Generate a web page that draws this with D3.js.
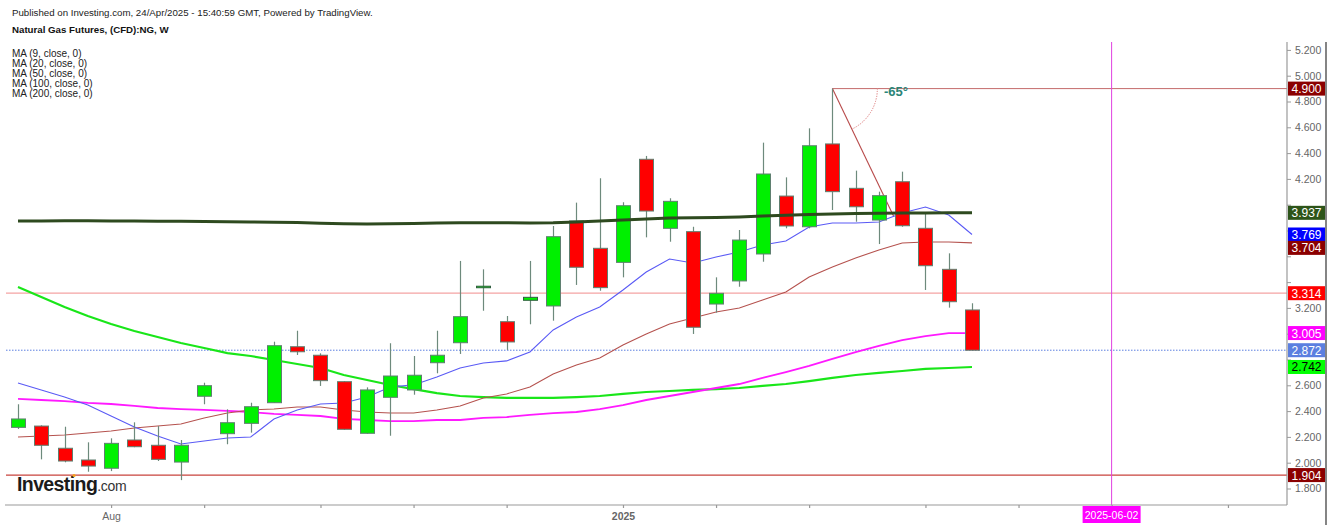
<!DOCTYPE html>
<html><head><meta charset="utf-8">
<script src="https://cdn.jsdelivr.net/npm/d3@7/dist/d3.min.js"></script>
<style>body{margin:0;background:#fff}svg{display:block;font-family:"Liberation Sans",Arial,sans-serif}</style>
</head><body><svg id="c" width="1332" height="525"></svg>
<script>
const dates = ["2024-07-08","2024-07-15","2024-07-22","2024-07-29","2024-08-05","2024-08-12","2024-08-19","2024-08-26","2024-09-02","2024-09-09","2024-09-16","2024-09-23","2024-09-30","2024-10-07","2024-10-14","2024-10-21","2024-10-28","2024-11-04","2024-11-11","2024-11-18","2024-11-25","2024-12-02","2024-12-09","2024-12-16","2024-12-23","2024-12-30","2025-01-06","2025-01-13","2025-01-20","2025-01-27","2025-02-03","2025-02-10","2025-02-17","2025-02-24","2025-03-03","2025-03-10","2025-03-17","2025-03-24","2025-03-31","2025-04-07","2025-04-14","2025-04-21"];
const opens  = [2.274,2.284,2.112,2.021,1.957,2.176,2.135,2.005,2.515,2.225,2.305,2.465,2.899,2.833,2.628,2.228,2.507,2.564,2.775,2.930,3.360,3.093,3.259,3.215,3.874,3.662,3.553,4.352,3.817,3.791,3.230,3.409,3.618,4.067,3.829,4.471,4.127,3.881,4.178,3.817,3.499,3.184];
const highs  = [2.453,2.290,2.279,2.158,2.189,2.313,2.284,2.176,2.620,2.414,2.465,2.938,3.023,2.848,2.632,2.584,2.926,2.827,3.023,3.564,3.499,3.137,3.564,3.835,4.016,4.205,4.019,4.378,4.050,3.829,3.437,3.804,4.481,4.212,4.592,4.900,4.264,4.101,4.256,3.938,3.623,3.236];
const lows   = [2.261,2.026,2.003,1.930,1.935,2.120,2.013,1.865,2.453,2.143,2.233,2.465,2.835,2.595,2.255,2.225,2.209,2.527,2.693,2.843,3.178,2.874,3.073,3.101,3.378,3.333,3.437,3.747,3.713,2.998,3.163,3.364,3.558,3.817,3.817,3.959,3.868,3.695,3.829,3.339,3.202,2.872];
const closes = [2.339,2.135,2.013,1.974,2.150,2.124,2.026,2.135,2.597,2.310,2.434,2.907,2.860,2.636,2.259,2.564,2.672,2.678,2.833,3.132,3.368,2.936,3.282,3.752,3.515,3.357,3.992,3.951,4.026,3.050,3.313,3.726,4.238,3.835,4.457,4.101,3.984,4.070,3.837,3.527,3.248,2.872];
const ma9   = [2.618,2.564,2.510,2.447,2.362,2.277,2.207,2.145,2.168,2.192,2.199,2.339,2.409,2.455,2.463,2.510,2.587,2.603,2.664,2.734,2.773,2.789,2.858,3.029,3.129,3.207,3.339,3.478,3.579,3.548,3.595,3.633,3.688,3.719,3.827,3.858,3.858,3.866,3.936,3.982,3.920,3.769];
const ma20  = [2.199,2.207,2.215,2.230,2.246,2.269,2.284,2.300,2.346,2.385,2.409,2.416,2.432,2.432,2.409,2.393,2.385,2.385,2.409,2.440,2.502,2.533,2.587,2.688,2.757,2.812,2.912,2.998,3.075,3.122,3.168,3.199,3.261,3.323,3.439,3.517,3.587,3.649,3.703,3.711,3.711,3.704];
const ma50  = [2.494,2.486,2.478,2.463,2.455,2.440,2.424,2.416,2.409,2.401,2.393,2.378,2.370,2.362,2.339,2.331,2.323,2.323,2.331,2.331,2.347,2.354,2.370,2.385,2.393,2.416,2.447,2.486,2.517,2.548,2.579,2.610,2.657,2.703,2.750,2.804,2.858,2.905,2.951,2.982,3.005,3.005];
const ma100 = [3.362,3.284,3.207,3.137,3.075,3.021,2.974,2.928,2.889,2.850,2.827,2.796,2.765,2.734,2.680,2.641,2.602,2.571,2.540,2.517,2.509,2.502,2.502,2.502,2.509,2.517,2.533,2.548,2.556,2.564,2.571,2.579,2.595,2.610,2.633,2.657,2.680,2.696,2.711,2.727,2.734,2.742];
const ma200 = [3.874,3.874,3.876,3.876,3.874,3.874,3.872,3.872,3.870,3.868,3.866,3.864,3.862,3.856,3.852,3.850,3.852,3.855,3.858,3.860,3.860,3.860,3.858,3.860,3.866,3.874,3.882,3.890,3.896,3.898,3.901,3.905,3.912,3.918,3.924,3.928,3.931,3.933,3.935,3.936,3.937,3.937];
const yTicks = [1.8,2.0,2.2,2.4,2.6,2.8,3.0,3.2,3.4,3.6,3.8,4.0,4.2,4.4,4.6,4.8,5.0,5.2];
const monthTicks = ["2024-08-05","2024-09-02","2024-10-07","2024-11-04","2024-12-02","2025-01-06","2025-02-03","2025-03-03","2025-04-07","2025-05-05","2025-06-02","2025-07-07"];
const monthLabels = ["Aug","","","","","2025","","","","","",""];
const legend = ["MA (9, close, 0)","MA (20, close, 0)","MA (50, close, 0)","MA (100, close, 0)","MA (200, close, 0)"];
const hLines = [{v:3.314,color:"#f4a3a3",box:"#ff0000"},{v:1.904,color:"#c8433c",box:"#8b0000"}];
const lastPrice = 2.872;
const peak = {date:"2025-03-10", v:4.900};
const trendEnd = {date:"2025-03-28T12:00", v:3.907};
const angleText = "-65°";
const markerDate = "2025-06-02";

const P = d3.timeParse("%Y-%m-%d");
const parseAny = s => s.length>10 ? d3.timeParse("%Y-%m-%dT%H:%M")(s) : P(s);
const D = dates.map(P);
const svg = d3.select("#c");
const AX = 1287, BY = 505, TOP = 42, LEFT = 5;
const x = d3.scaleTime().domain([D[0], D[D.length-1]]).range([18, 972]);
const y = d3.scaleLinear().domain([1.8, 5.2]).range([488.5, 49.9]);

svg.append("rect").attr("width",1332).attr("height",525).attr("fill","#fff");

// header
svg.append("text").attr("x",12).attr("y",16).attr("font-size",9.7).attr("fill","#222").text("Published on Investing.com, 24/Apr/2025 - 15:40:59 GMT, Powered by TradingView.");
svg.append("text").attr("x",12).attr("y",33).attr("font-size",9.7).attr("font-weight","bold").attr("fill","#111").text("Natural Gas Futures, (CFD):NG, W");
legend.forEach((t,i)=>svg.append("text").attr("x",12).attr("y",57+i*10).attr("font-size",10).attr("fill","#222").text(t));

// horizontal lines
hLines.forEach(h=>svg.append("line").attr("x1",6).attr("x2",AX).attr("y1",y(h.v)).attr("y2",y(h.v)).attr("stroke",h.color).attr("stroke-width",1.3));
svg.append("line").attr("x1",6).attr("x2",AX).attr("y1",y(lastPrice)).attr("y2",y(lastPrice)).attr("stroke","#5b7fe0").attr("stroke-dasharray","1.5,1.5");

// peak line and angle
const px = x(P(peak.date)), py = y(peak.v);
svg.append("line").attr("x1",px).attr("x2",AX).attr("y1",py).attr("y2",py).attr("stroke","#c46a6a").attr("stroke-width",1);
const tx = x(parseAny(trendEnd.date)), ty = y(trendEnd.v);
svg.append("line").attr("x1",px).attr("y1",py).attr("x2",tx).attr("y2",ty).attr("stroke","#b84a4a").attr("stroke-width",1.1);
const ang = Math.atan2(ty-py, tx-px);
const arc = d3.arc().innerRadius(45).outerRadius(45).startAngle(Math.PI/2).endAngle(Math.PI/2+ang);
svg.append("path").attr("d",arc()).attr("transform",`translate(${px},${py})`).attr("fill","none").attr("stroke","#e08a8a").attr("stroke-width",0.8).attr("stroke-dasharray","1,1.5");
svg.append("text").attr("x",884).attr("y",96).attr("font-size",13).attr("font-weight","bold").attr("fill","#2a8577").text(angleText);

// marker vertical line
const mx = x(P(markerDate));
svg.append("line").attr("x1",mx).attr("x2",mx).attr("y1",TOP).attr("y2",BY).attr("stroke","#e040e0").attr("stroke-width",1);

// MA lines
const line = arr => d3.line().x((d,i)=>x(D[i])).y(d=>y(d))(arr);
[[ma100,"#19e619",2.2],[ma50,"#ff1aff",1.8],[ma20,"#b5524e",1.1],[ma9,"#5a5af5",1.1]].forEach(([a,c,w])=>
  svg.append("path").attr("d",line(a)).attr("fill","none").attr("stroke",c).attr("stroke-width",w));

// candles
const bw = 14;
const g = svg.append("g");
D.forEach((d,i)=>{
  const cx = Math.round(x(d))+0.5;
  const up = closes[i] >= opens[i];
  g.append("line").attr("x1",cx).attr("x2",cx).attr("y1",y(highs[i])).attr("y2",y(lows[i])).attr("stroke","#6d8a7c").attr("stroke-width",1.2);
  const top = y(Math.max(opens[i],closes[i])), bot = y(Math.min(opens[i],closes[i]));
  g.append("rect").attr("x",cx-bw/2).attr("y",top).attr("width",bw).attr("height",Math.max(bot-top,1.5))
    .attr("fill", up?"#00f000":"#ff0000").attr("stroke", Math.abs(bot-top)<3?"#2f5d3f":"#5f7f70").attr("stroke-width",1);
});
svg.append("path").attr("d",line(ma200)).attr("fill","none").attr("stroke","#2e4a1f").attr("stroke-width",3);

// axes
svg.append("line").attr("x1",LEFT).attr("x2",AX).attr("y1",BY).attr("y2",BY).attr("stroke","#9a9a9a").attr("stroke-width",1.2);
svg.append("line").attr("x1",AX).attr("x2",AX).attr("y1",TOP).attr("y2",BY).attr("stroke","#9a9a9a").attr("stroke-width",1.2);
svg.append("line").attr("x1",1326).attr("x2",1326).attr("y1",TOP).attr("y2",525).attr("stroke","#333").attr("stroke-width",1.2);

// value labels on the axis
const boxes = [
  {v:4.900,fill:"#8b0000",tc:"#fff"},
  {v:ma200[ma200.length-1],fill:"#2d5419",tc:"#fff"},
  {v:ma9[ma9.length-1],fill:"#0000ff",tc:"#fff"},
  {v:ma20[ma20.length-1],fill:"#8b0000",tc:"#fff",dy:5},
  {v:3.314,fill:"#ff0000",tc:"#fff"},
  {v:ma50[ma50.length-1],fill:"#ff00ff",tc:"#fff"},
  {v:lastPrice,fill:"#5b7fe0",tc:"#fff"},
  {v:ma100[ma100.length-1],fill:"#00ff00",tc:"#000"},
  {v:1.904,fill:"#8b0000",tc:"#fff"}
];
const boxY = boxes.map(b=>y(b.v)+(b.dy||0));

const ya = d3.axisRight(y).tickValues(yTicks).tickSize(4).tickPadding(4).tickFormat(d3.format(".3f"));
const yg = svg.append("g").attr("transform",`translate(${AX},0)`).call(ya);
yg.select(".domain").remove();
yg.selectAll("line").attr("stroke","#999");
yg.selectAll("text").attr("font-size",10.5).attr("fill","#666").attr("font-family","Liberation Sans, Arial")
  .style("display",d=>boxY.some(by=>Math.abs(by-y(d))<12)?"none":null);

const xa = d3.axisBottom(x).tickValues(monthTicks.map(P)).tickSize(3).tickPadding(5).tickFormat((d,i)=>monthLabels[i]);
const xg = svg.append("g").attr("transform",`translate(0,${BY})`).call(xa);
xg.select(".domain").remove();
xg.selectAll("line").attr("stroke","#999").attr("stroke-width",1.2);
xg.selectAll("text").attr("font-size",10.5).attr("fill","#666").attr("font-family","Liberation Sans, Arial")
  .attr("font-weight",(d,i)=>monthLabels[i]==="2025"?"bold":"normal");

boxes.forEach((b,i)=>{
  const cy = boxY[i];
  svg.append("rect").attr("x",AX+1).attr("y",cy-7).attr("width",37).attr("height",14).attr("fill",b.fill);
  svg.append("text").attr("x",AX+19.5).attr("y",cy+4.5).attr("text-anchor","middle").attr("font-size",12).attr("fill",b.tc).text(d3.format(".3f")(b.v));
});
// marker date label
svg.append("rect").attr("x",mx-29).attr("y",BY+1).attr("width",58).attr("height",17).attr("fill","#ff00ff");
svg.append("text").attr("x",mx).attr("y",BY+13.5).attr("text-anchor","middle").attr("font-size",10.5).attr("fill","#fff").text(markerDate);

// logo
const lg = svg.append("text").attr("x",17).attr("y",491);
lg.append("tspan").attr("font-size",19.5).attr("font-weight","bold").attr("fill","#1b1b1b").attr("letter-spacing","-0.6").text("Investing");
lg.append("tspan").attr("font-size",14).attr("fill","#333").attr("letter-spacing","-0.3").text(".com");
svg.append("circle").attr("cx",74).attr("cy",475.5).attr("r",1.6).attr("fill","#f7a21b");
</script></body></html>
